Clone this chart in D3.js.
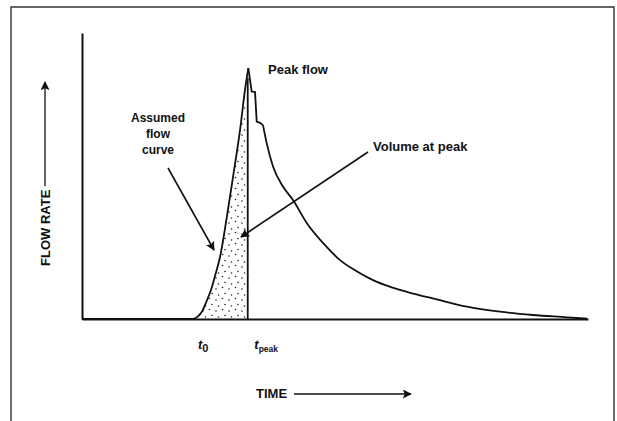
<!DOCTYPE html>
<html>
<head>
<meta charset="utf-8">
<script src="https://cdn.jsdelivr.net/npm/d3@7"></script>
<style>
  body { margin: 0; background: #fff; }
  svg { display: block; }
  .lbl { font-family: "Liberation Sans", Arial, sans-serif; font-weight: bold; fill: #111; }
</style>
</head>
<body>
<div id="vis"></div>
<script>
// hydrograph (arbitrary time / flow units)
var times = [0, 21.94, 22.92, 23.72, 24.64, 25.5, 26.28, 27.27, 28.6, 29.84, 31.23, 32.21, 32.87,
  33.54, 34.19, 34.53, 35.18, 35.77, 36.5, 37.75, 39.72, 41.7, 44.41, 47.63, 50.99,
  54.2, 57.51, 60.8, 64.17, 70.75, 76.09, 82.61, 89.13, 95.85, 99.8];
var flows = [0, 0, 0.9, 2.6, 6.3, 10.2, 15.0, 21.6, 35.4, 49.6, 66.0, 80.1, 87.7,
  79.5, 79.4, 69.0, 68.6, 67.8, 61.5, 53.3, 46.3, 41.6, 33.6, 26.6, 20.6,
  16.8, 13.6, 11.3, 9.5, 6.6, 4.3, 2.55, 1.4, 0.6, 0.1];
var t0 = 21.94;
var tPeak = 32.87;
var noteLines = ['Assumed', 'flow', 'curve'];

var width = 617;
var height = 421;

var x = d3.scaleLinear().domain([0, 100]).range([82, 588]);
var y = d3.scaleLinear().domain([0, 100]).range([319, 33]);

var data = times.map(function (t, i) { return { t: t, f: flows[i] }; });

var svg = d3.select('#vis').append('svg')
  .attr('width', width)
  .attr('height', height);

var defs = svg.append('defs');

// stipple for the volume up to the peak
var pat = defs.append('pattern')
  .attr('id', 'dots')
  .attr('patternUnits', 'userSpaceOnUse')
  .attr('width', 13).attr('height', 11);
[[1.5, 1.5], [8, 3], [4, 7.5], [10.5, 9]].forEach(function (p) {
  pat.append('circle').attr('cx', p[0]).attr('cy', p[1]).attr('r', 0.8).attr('fill', '#222');
});

defs.append('marker')
  .attr('id', 'headBig')
  .attr('viewBox', '0 0 10 10')
  .attr('refX', 9).attr('refY', 5)
  .attr('markerWidth', 15).attr('markerHeight', 9)
  .attr('markerUnits', 'userSpaceOnUse')
  .attr('orient', 'auto')
  .append('path').attr('d', 'M0,0 L10,5 L0,10 L2,5 Z').attr('fill', '#111');

// frame (no bottom edge in the scan)
svg.append('path')
  .attr('d', 'M11,421 L11,7 L614,7 L614,421')
  .attr('fill', 'none')
  .attr('stroke', '#333')
  .attr('stroke-width', 1.4);

// shaded area between t0 and the peak
var rising = data.filter(function (d) { return d.t >= t0 && d.t <= tPeak; });
svg.append('path')
  .datum(rising)
  .attr('d', d3.area()
    .x(function (d) { return x(d.t); })
    .y0(y(0))
    .y1(function (d) { return y(d.f); })
    .curve(d3.curveMonotoneX))
  .attr('fill', 'url(#dots)');

// axes without ticks
svg.append('g')
  .attr('transform', 'translate(0,' + y(0) + ')')
  .call(d3.axisBottom(x).tickValues([]).tickSizeOuter(0))
  .select('.domain').attr('stroke', '#111').attr('stroke-width', 2);

svg.append('g')
  .attr('transform', 'translate(' + x(0) + ',0)')
  .call(d3.axisLeft(y).tickValues([]).tickSizeOuter(0))
  .select('.domain').attr('stroke', '#111').attr('stroke-width', 2);

// hydrograph: smooth rise, sharp peak, smooth recession
var line = d3.line()
  .x(function (d) { return x(d.t); })
  .y(function (d) { return y(d.f); });
var peakIdx = times.indexOf(tPeak);
svg.append('path')
  .datum(data.slice(0, peakIdx + 1))
  .attr('d', line.curve(d3.curveMonotoneX))
  .attr('fill', 'none')
  .attr('stroke', '#111')
  .attr('stroke-width', 1.8);
svg.append('path')
  .datum(data.slice(peakIdx, peakIdx + 6))
  .attr('d', line.curve(d3.curveLinear))
  .attr('fill', 'none')
  .attr('stroke', '#111')
  .attr('stroke-width', 1.8)
  .attr('stroke-linejoin', 'round');
svg.append('path')
  .datum(data.slice(peakIdx + 5))
  .attr('d', line.curve(d3.curveMonotoneX))
  .attr('fill', 'none')
  .attr('stroke', '#111')
  .attr('stroke-width', 1.8);

// peak line
var peakFlow = flows[peakIdx];
svg.append('line')
  .attr('x1', x(tPeak) - 0.6).attr('x2', x(tPeak) - 0.6)
  .attr('y1', y(0)).attr('y2', y(peakFlow) + 10)
  .attr('stroke', '#111')
  .attr('stroke-width', 1.8);

// annotations
svg.append('text').attr('class', 'lbl')
  .attr('x', 268).attr('y', 74)
  .attr('font-size', 13)
  .text('Peak flow');

var note = svg.append('text').attr('class', 'lbl')
  .attr('text-anchor', 'middle')
  .attr('font-size', 12);
noteLines.forEach(function (s, i) {
  note.append('tspan').attr('x', 158).attr('y', 122 + i * 16).text(s);
});

svg.append('line')
  .attr('x1', 168).attr('y1', 168)
  .attr('x2', 214).attr('y2', 250)
  .attr('stroke', '#111').attr('stroke-width', 1.6)
  .attr('marker-end', 'url(#headBig)');

svg.append('text').attr('class', 'lbl')
  .attr('x', 373).attr('y', 151)
  .attr('font-size', 13)
  .text('Volume at peak');

svg.append('line')
  .attr('x1', 368).attr('y1', 152)
  .attr('x2', 241).attr('y2', 237)
  .attr('stroke', '#111').attr('stroke-width', 1.6)
  .attr('marker-end', 'url(#headBig)');

// time labels
var tl = svg.append('text').attr('class', 'lbl')
  .attr('x', x(t0) + 5).attr('y', 349)
  .attr('font-size', 13);
tl.append('tspan').attr('font-style', 'italic').text('t');
tl.append('tspan').attr('dy', 3).attr('font-size', 11).text('0');

var tp = svg.append('text').attr('class', 'lbl')
  .attr('x', x(tPeak) + 6).attr('y', 349)
  .attr('font-size', 13);
tp.append('tspan').attr('font-style', 'italic').text('t');
tp.append('tspan').attr('dy', 3).attr('font-size', 8.5).text('peak');

// axis titles with arrows
svg.append('text').attr('class', 'lbl')
  .attr('x', 256).attr('y', 398)
  .attr('font-size', 13)
  .text('TIME');
svg.append('line')
  .attr('x1', 294).attr('y1', 394)
  .attr('x2', 411).attr('y2', 394)
  .attr('stroke', '#111').attr('stroke-width', 1.3)
  .attr('marker-end', 'url(#headBig)');

svg.append('text').attr('class', 'lbl')
  .attr('transform', 'translate(50,266) rotate(-90)')
  .attr('font-size', 13)
  .text('FLOW RATE');
svg.append('line')
  .attr('x1', 45).attr('y1', 186)
  .attr('x2', 45).attr('y2', 82)
  .attr('stroke', '#111').attr('stroke-width', 1.3)
  .attr('marker-end', 'url(#headBig)');
</script>
</body>
</html>
